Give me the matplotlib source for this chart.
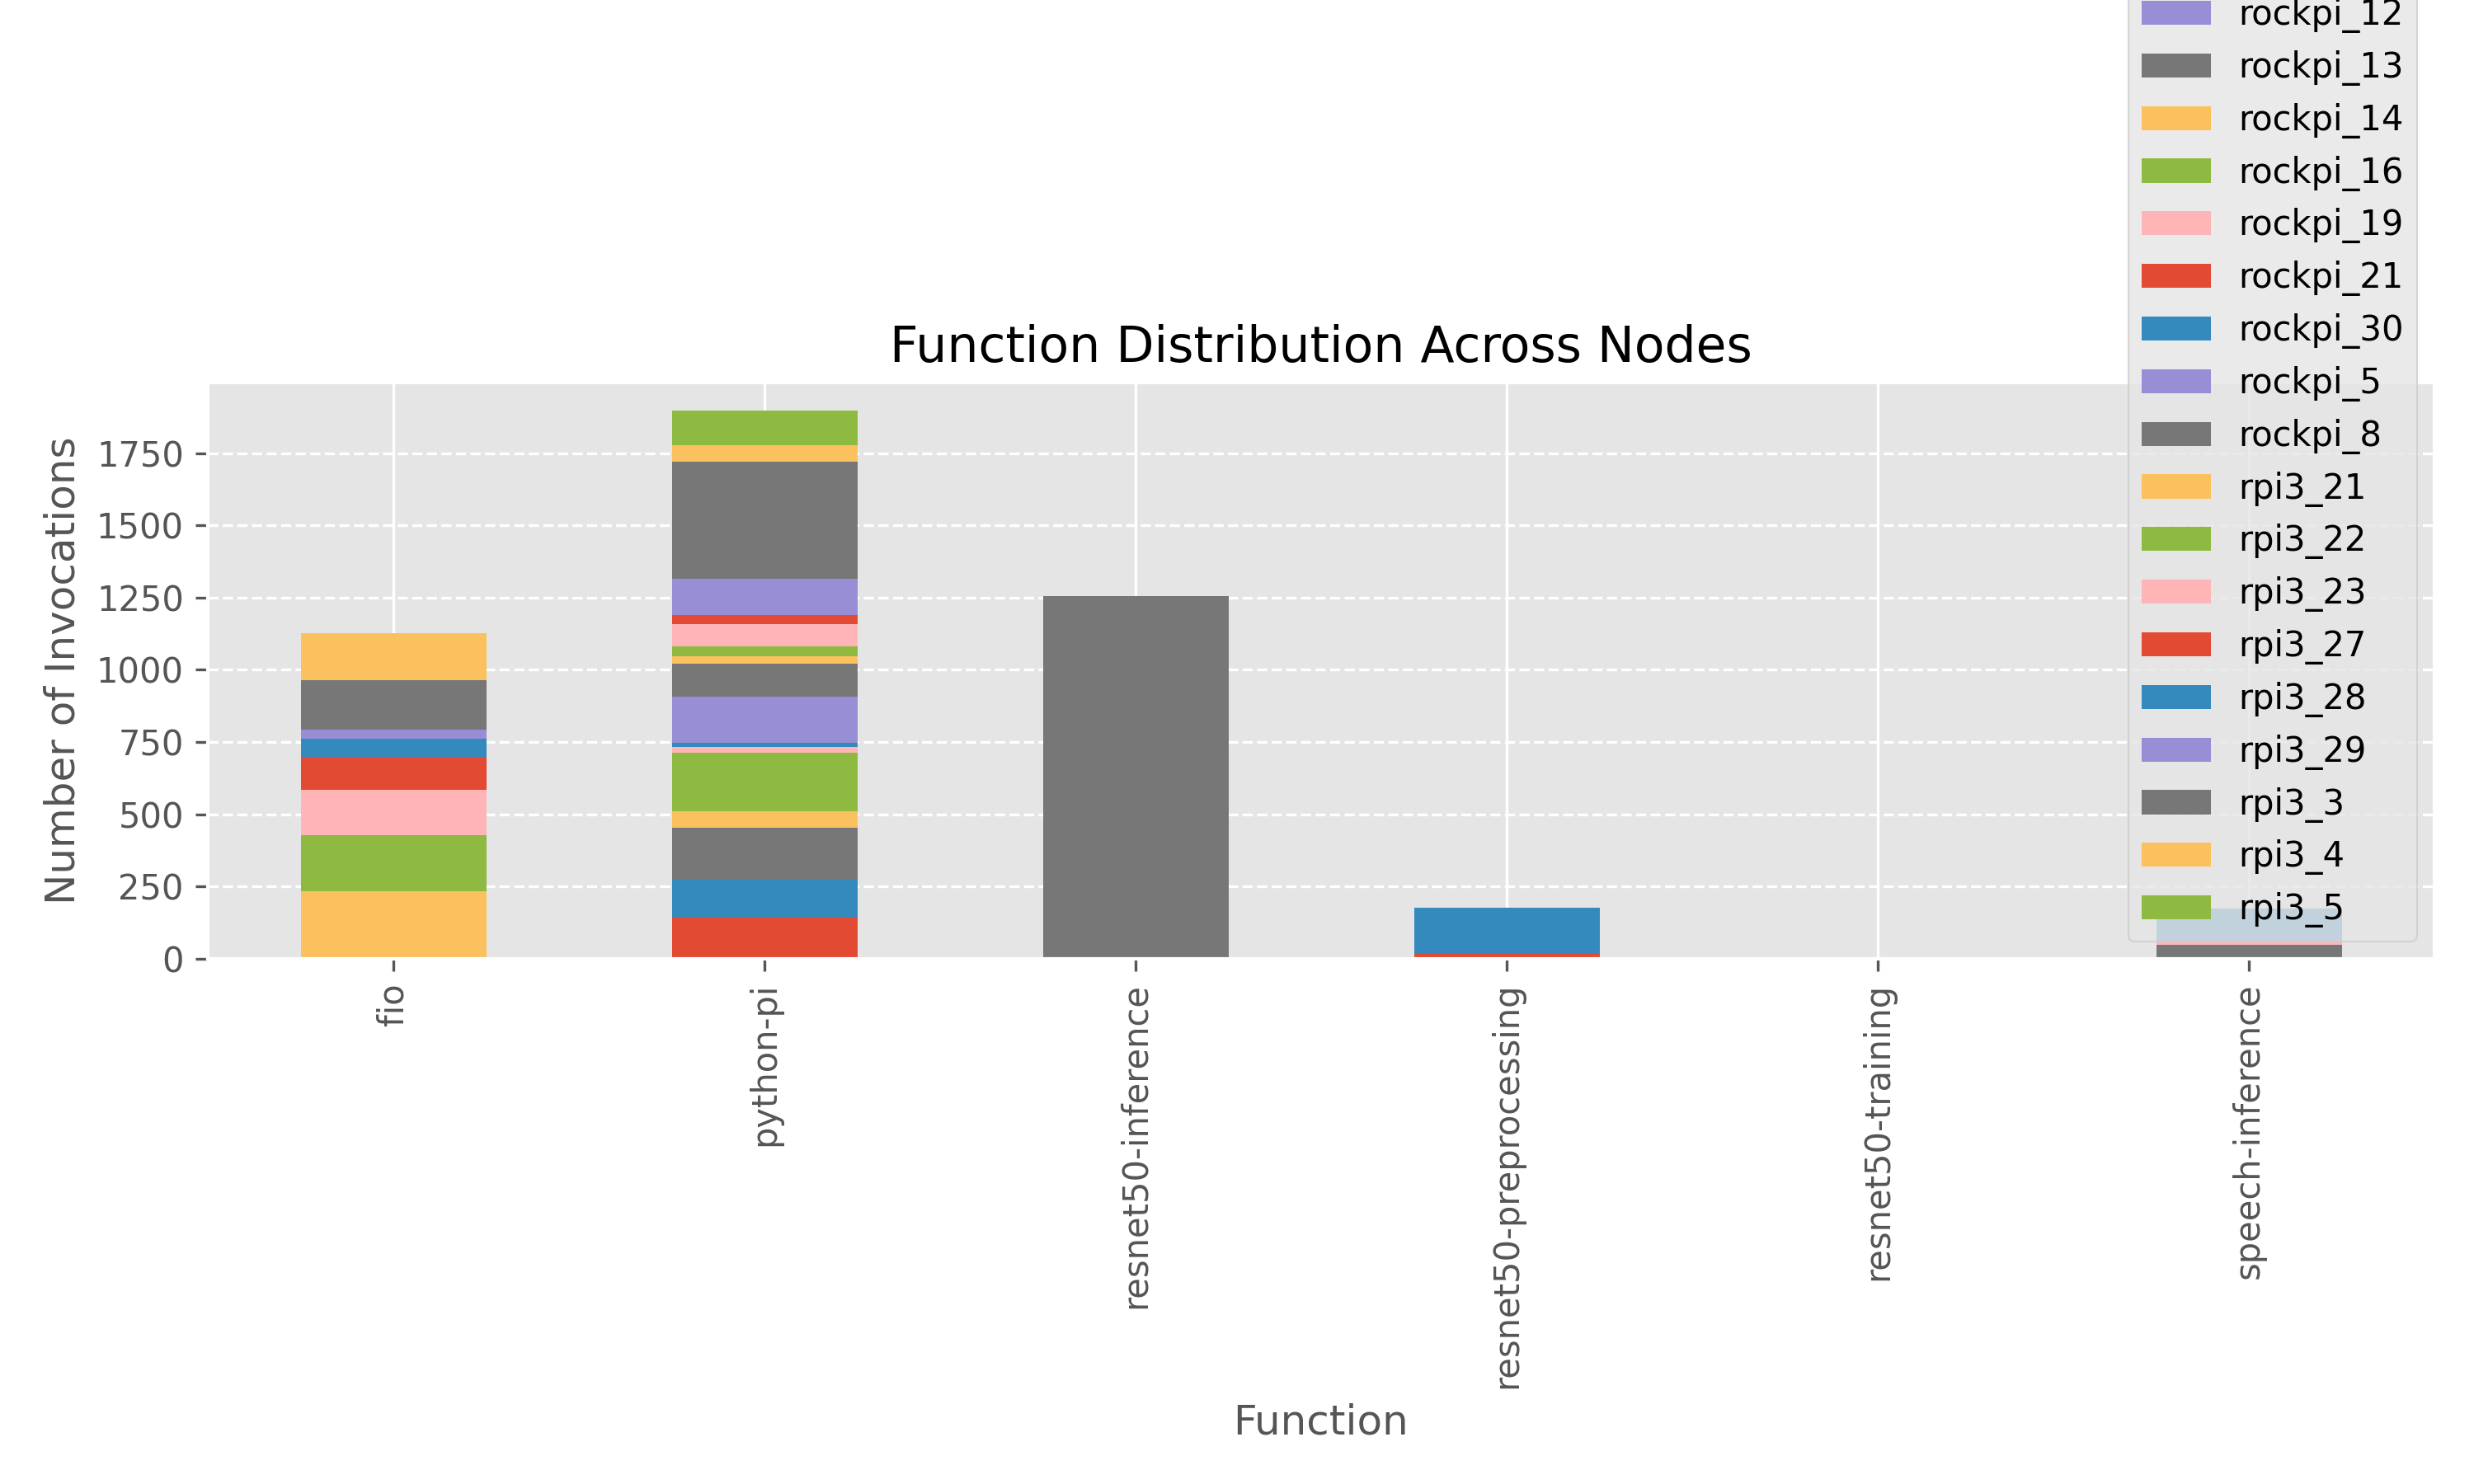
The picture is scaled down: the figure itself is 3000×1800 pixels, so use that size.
import matplotlib
matplotlib.use("Agg")
import matplotlib.pyplot as plt
import pandas as pd

plt.style.use("ggplot")

# nodes (legend order, alphabetical as pandas pivot gives them)
nodes = ["rockpi_10", "rockpi_11", "rockpi_12", "rockpi_13", "rockpi_14",
         "rockpi_16", "rockpi_19", "rockpi_21", "rockpi_30", "rockpi_5",
         "rockpi_8", "rpi3_21", "rpi3_22", "rpi3_23", "rpi3_27",
         "rpi3_28", "rpi3_29", "rpi3_3", "rpi3_4", "rpi3_5"]

functions = ["fio", "python-pi", "resnet50-inference",
             "resnet50-preprocessing", "resnet50-training", "speech-inference"]

# invocations per node, one list per function (same order as nodes)
fio = [0, 0, 0, 0, 233, 195, 155, 115, 64, 31, 171, 162, 0, 0, 0, 0, 0, 0, 0, 0]
python_pi = [143, 129, 0, 180, 57, 204, 19, 0, 14, 160, 114, 26, 36, 75, 33, 0, 126, 404, 57, 121]
resnet50_inference = [0, 0, 0, 1254, 0, 0, 0, 0, 0, 0, 0, 0, 0, 0, 0, 0, 0, 0, 0, 0]
resnet50_preprocessing = [0, 0, 0, 0, 0, 0, 0, 18, 158, 0, 0, 0, 0, 0, 0, 0, 0, 0, 0, 0]
resnet50_training = [0] * 20
speech_inference = [0, 0, 0, 49, 0, 0, 11, 0, 114, 0, 0, 0, 0, 0, 0, 0, 0, 0, 0, 0]

df = pd.DataFrame(
    [fio, python_pi, resnet50_inference, resnet50_preprocessing,
     resnet50_training, speech_inference],
    index=functions, columns=nodes)
df.index.name = "Function"
df.columns.name = "Node"

fig, ax = plt.subplots(figsize=(10, 6), dpi=300)
df.plot(kind="bar", stacked=True, ax=ax)

ax.set_title("Function Distribution Across Nodes")
ax.set_xlabel("Function")
ax.set_ylabel("Number of Invocations")
ax.grid(axis="y", linestyle="--")
ax.legend(loc="lower right")

plt.subplots_adjust(left=0.084, right=0.984, bottom=0.354, top=0.742)
plt.savefig("out.png", dpi=300)
